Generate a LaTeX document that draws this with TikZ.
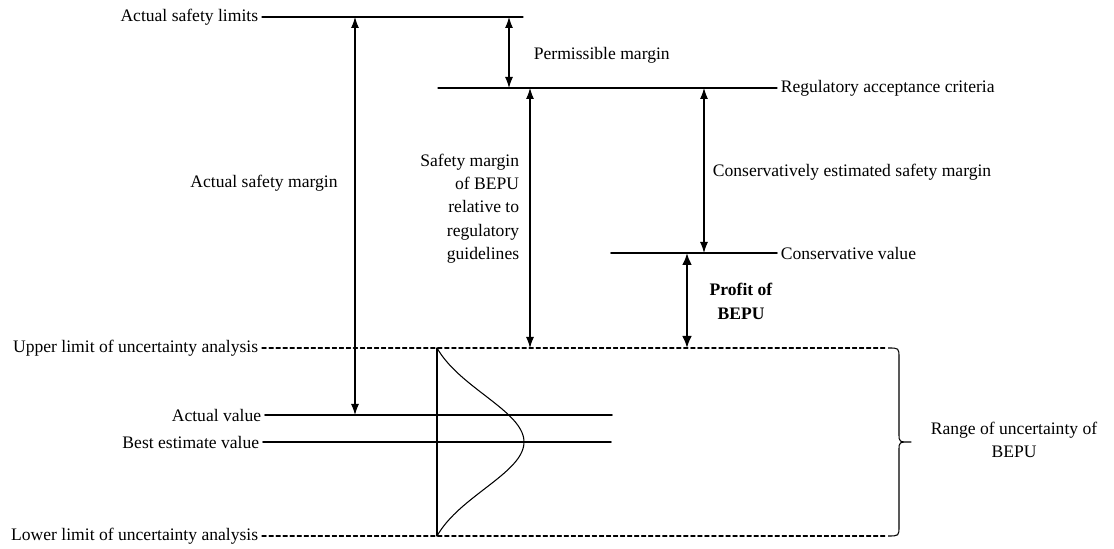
\documentclass[tikz,border=0pt]{standalone}
\usepackage{fontspec}
\setmainfont{Liberation Serif}
\usepackage{tkz-euclide}
\usetikzlibrary{arrows.meta}

\tikzset{
  thinline/.style={line width=0.6pt},
  valueline/.style={line width=1pt},
  limitline/.style={line width=0.6pt,dash pattern=on 2.4pt off 1.6pt},
  dimarrow/.style={line width=0.6pt,
    {Latex[length=2.2mm,width=1.6mm]}-{Latex[length=2.2mm,width=1.6mm]}},
  profitarrow/.style={line width=1.4pt,
    {Latex[length=2.4mm,width=2mm]}-{Latex[length=2.4mm,width=2mm]}},
  lbl/.style={font=\fontsize{10}{13.3}\selectfont,inner sep=2pt}
}

\begin{document}
\begin{tikzpicture}[line join=round]
    \useasboundingbox (0,0) rectangle (22.28,10.98);
    % levels
    \tkzDefPoints{5.24/10.64/L1,10.46/10.64/L2,8.76/9.22/R1,15.54/9.22/R2}
    \tkzDefPoints{12.22/5.92/C1,15.54/5.92/C2,5.24/4.02/U1,17.70/4.02/U2}
    \tkzDefPoints{5.24/0.26/W1,17.70/0.26/W2,5.30/2.68/V1,12.24/2.68/V2}
    \tkzDefPoints{5.26/2.14/B1,12.22/2.14/B2,8.74/4.02/G1,8.74/0.26/G2}
    % margins
    \tkzDefPoints{10.18/10.64/P1,10.18/9.22/P2,7.10/10.64/M1,7.10/2.68/M2}
    \tkzDefPoints{10.60/9.22/S1,10.60/4.02/S2,14.08/9.22/K1,14.08/5.92/K2}
    \tkzDefPoints{13.74/5.92/F1,13.74/4.02/F2}
    % brace
    \tkzDefPoints{17.76/4.02/Q1,18.22/2.14/Q2,17.76/0.26/Q3}
    \tkzDrawSegments[thinline](L1,L2 R1,R2 G1,G2)
    \tkzDrawSegments[valueline](C1,C2 V1,V2 B1,B2)
    \tkzDrawSegments[limitline](U1,U2 W1,W2)
    \tkzDrawSegments[dimarrow](P1,P2 M1,M2 S1,S2 K1,K2)
    \tkzDrawSegments[profitarrow](F1,F2)
    \draw[thinline] plot[domain=-1.88:1.88,samples=81,smooth]
      ({8.74+1.74*(exp(-(\x)^2/1.767)-0.1353)/0.8647},{2.14+\x});
    \draw[thinline] (Q1) .. controls (17.98,4.02) .. (17.98,3.82) -- (17.98,2.30)
      .. controls (17.98,2.14) .. (Q2) .. controls (17.98,2.14) .. (17.98,1.98)
      -- (17.98,0.46) .. controls (17.98,0.26) .. (Q3);
    \node[lbl,anchor=east] (tLimit) at (L1) {Actual safety limits};
    \node[lbl,anchor=west] (tCrit) at (R2) {Regulatory acceptance criteria};
    \node[lbl,anchor=west] (tCons) at (C2) {Conservative value};
    \node[lbl,anchor=east] (tUpper) at (U1) {Upper limit of uncertainty analysis};
    \node[lbl,anchor=east] (tLower) at (W1) {Lower limit of uncertainty analysis};
    \node[lbl,anchor=east] (tActual) at (V1) {Actual value};
    \node[lbl,anchor=east] (tBest) at (B1) {Best estimate value};
    \node[lbl,anchor=west] (tPerm) at (10.60,9.88) {Permissible margin};
    \node[lbl] (tMargin) at (5.28,7.32) {Actual safety margin};
    \node[lbl,anchor=east,align=right] (tBepu) at (10.46,6.81)
      {Safety margin\\of BEPU\\relative to\\regulatory\\guidelines};
    \node[lbl,anchor=west] (tEst) at (14.18,7.54) {Conservatively estimated safety margin};
    \node[lbl,align=center,font=\fontsize{10}{13.3}\selectfont\bfseries] (tProfit)
      at (14.82,4.95) {Profit of\\BEPU};
    \node[lbl,align=center] (tRange) at (20.28,2.18) {Range of uncertainty of\\BEPU};
\end{tikzpicture}
\end{document}
